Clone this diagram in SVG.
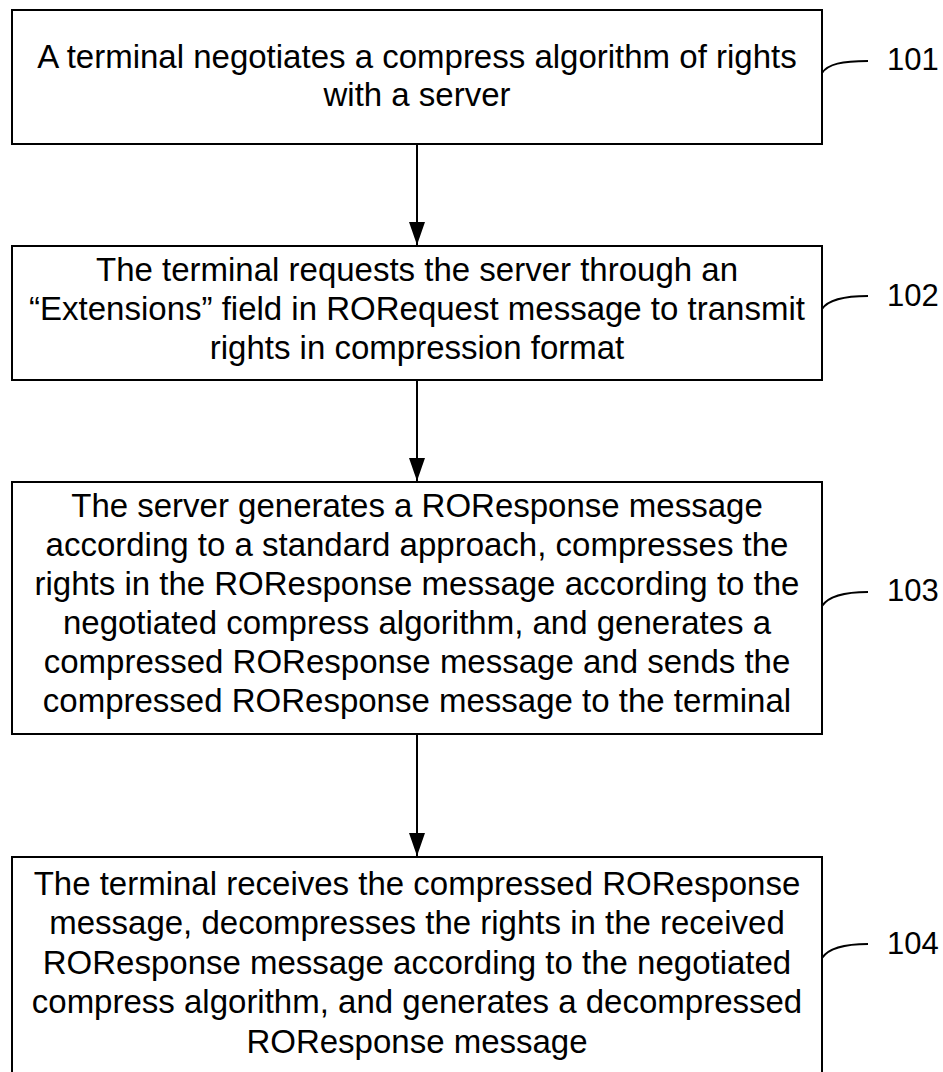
<svg xmlns="http://www.w3.org/2000/svg" width="943" height="1072" viewBox="0 0 943 1072">
<style>
.box{fill:#fff;stroke:#000;stroke-width:2}
.t{font-family:"Liberation Sans",Arial,sans-serif;font-size:33px;text-anchor:middle;fill:#000}
.lbl{font-family:"Liberation Sans",Arial,sans-serif;font-size:31px;fill:#000}
.lead{fill:none;stroke:#000;stroke-width:2}
.conn{stroke:#000;stroke-width:2;fill:none;marker-end:url(#ah)}
</style>
<defs>
<marker id="ah" markerUnits="userSpaceOnUse" markerWidth="23" markerHeight="16" refX="23" refY="8" orient="auto" viewBox="0 0 23 16">
<path d="M0,0 L23,8 L0,16 Z" fill="#000"/>
</marker>
</defs>
<rect width="943" height="1072" fill="#fff"/>
<g id="connectors">
<line class="conn" x1="417" y1="144" x2="417" y2="245"/>
<line class="conn" x1="417" y1="380" x2="417" y2="481"/>
<line class="conn" x1="417" y1="734" x2="417" y2="856"/>
</g>
<g id="n101">
<rect class="box" x="12" y="10" width="810" height="134"/>
<text class="t" x="417" y="68">A terminal negotiates a compress algorithm of rights</text>
<text class="t" x="417" y="106">with a server</text>
<path class="lead" d="M822,73 C828,64 842,61 868,61"/>
<text class="lbl" x="887" y="70">101</text>
</g>
<g id="n102">
<rect class="box" x="12" y="246" width="810" height="134"/>
<text class="t" x="417" y="281">The terminal requests the server through an</text>
<text class="t" x="417" y="320">“Extensions” field in RORequest message to transmit</text>
<text class="t" x="417" y="359">rights in compression format</text>
<path class="lead" d="M822,309 C828,300 842,296 868,296"/>
<text class="lbl" x="887" y="306">102</text>
</g>
<g id="n103">
<rect class="box" x="12" y="482" width="810" height="252"/>
<text class="t" x="417" y="517">The server generates a ROResponse message</text>
<text class="t" x="417" y="556">according to a standard approach, compresses the</text>
<text class="t" x="417" y="595">rights in the ROResponse message according to the</text>
<text class="t" x="417" y="634">negotiated compress algorithm, and generates a</text>
<text class="t" x="417" y="673">compressed ROResponse message and sends the</text>
<text class="t" x="417" y="712">compressed ROResponse message to the terminal</text>
<path class="lead" d="M822,606 C828,597 842,592 868,592"/>
<text class="lbl" x="887" y="601">103</text>
</g>
<g id="n104">
<rect class="box" x="12" y="857" width="810" height="218"/>
<text class="t" x="417" y="895">The terminal receives the compressed ROResponse</text>
<text class="t" x="417" y="934">message, decompresses the rights in the received</text>
<text class="t" x="417" y="974">ROResponse message according to the negotiated</text>
<text class="t" x="417" y="1013">compress algorithm, and generates a decompressed</text>
<text class="t" x="417" y="1053">ROResponse message</text>
<path class="lead" d="M822,958 C828,949 842,944 868,944"/>
<text class="lbl" x="887" y="954">104</text>
</g>
</svg>
